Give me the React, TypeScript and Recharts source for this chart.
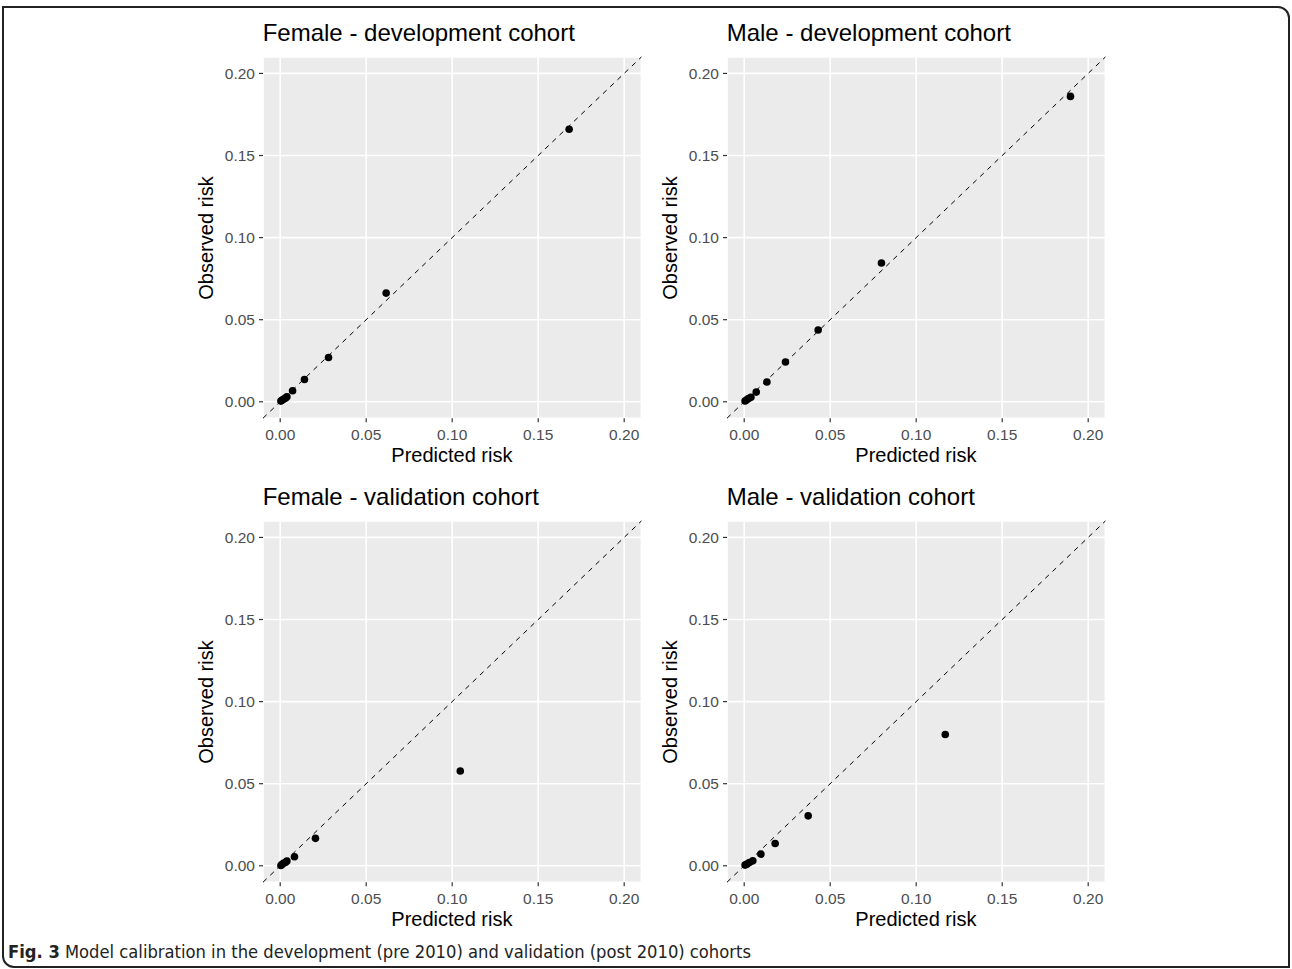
import React from 'react';
import { ScatterChart, Scatter, XAxis, YAxis, CartesianGrid, ReferenceLine } from 'recharts';

// ---- data ----
const tickValues = [0, 0.05, 0.1, 0.15, 0.2];
const minorTickValues = [0.025, 0.075, 0.125, 0.175];
const axisDomain: [number, number] = [-0.01, 0.21];

const panelTitles = [
  'Female - development cohort',
  'Male - development cohort',
  'Female - validation cohort',
  'Male - validation cohort',
];
const xAxisTitle = 'Predicted risk';
const yAxisTitle = 'Observed risk';
const captionBold = 'Fig. 3';
const captionText = ' Model calibration in the development (pre 2010) and validation (post 2010) cohorts';

const femaleDevPredicted = [0.0004, 0.001, 0.0019, 0.003, 0.0039, 0.0072, 0.0141, 0.0281, 0.0616, 0.168];
const femaleDevObserved = [0.0004, 0.0009, 0.0015, 0.0022, 0.003, 0.0067, 0.0136, 0.027, 0.0662, 0.166];

const maleDevPredicted = [0.0005, 0.0015, 0.0025, 0.0039, 0.007, 0.0132, 0.024, 0.043, 0.0798, 0.1897];
const maleDevObserved = [0.0005, 0.0012, 0.002, 0.0027, 0.0059, 0.012, 0.0242, 0.0437, 0.0845, 0.186];

const femaleValPredicted = [0.0004, 0.001, 0.0019, 0.003, 0.0039, 0.0083, 0.0205, 0.1047];
const femaleValObserved = [0.0002, 0.0008, 0.0015, 0.002, 0.0029, 0.0055, 0.0167, 0.0577];

const maleValPredicted = [0.0005, 0.0015, 0.003, 0.005, 0.0097, 0.018, 0.0372, 0.1169];
const maleValObserved = [0.0004, 0.001, 0.002, 0.003, 0.0071, 0.0136, 0.0304, 0.08];

const panelPredicted = [femaleDevPredicted, maleDevPredicted, femaleValPredicted, maleValPredicted];
const panelObserved = [femaleDevObserved, maleDevObserved, femaleValObserved, maleValObserved];

// ---- layout ----
const FONT = '"Liberation Sans", Arial, Helvetica, sans-serif';
const PLOT_W = 378.4;
const PLOT_H = 361.2;
const Y_AXIS_W = 90;
const X_AXIS_H = 40;
const M_TOP = 20;
const M_RIGHT = 10;
const CHART_W = Y_AXIS_W + PLOT_W + M_RIGHT;
const CHART_H = M_TOP + PLOT_H + X_AXIS_H;
const panelLefts = [262.7, 726.7, 262.7, 726.7];
const panelTops = [56.9, 56.9, 520.9, 520.9];

const minorX = (props: any) => {
  const ax = props && props.xAxis;
  return ax && typeof ax.scale === 'function' ? minorTickValues.map((v) => ax.scale(v)) : [];
};
const minorY = (props: any) => {
  const ax = props && props.yAxis;
  return ax && typeof ax.scale === 'function' ? minorTickValues.map((v) => ax.scale(v)) : [];
};

const Dot = (props: any) => {
  const { cx, cy } = props;
  if (cx == null || cy == null) return null;
  return <circle cx={cx} cy={cy} r={3.8} fill="#000000" />;
};

const fmt = (v: number) => v.toFixed(2);

function Panel({ index }: { index: number }) {
  const data = panelPredicted[index].map((p, i) => ({ predicted: p, observed: panelObserved[index][i] }));
  const left = panelLefts[index];
  const top = panelTops[index];
  return (
    <>
      <div
        style={{
          position: 'absolute',
          left: left,
          top: top - 38,
          fontFamily: FONT,
          fontSize: 24,
          color: '#000',
          lineHeight: '28px',
          whiteSpace: 'nowrap',
        }}
      >
        {panelTitles[index]}
      </div>
      <div style={{ position: 'absolute', left: left - Y_AXIS_W, top: top - M_TOP }}>
        <ScatterChart
          width={CHART_W}
          height={CHART_H}
          margin={{ top: M_TOP, right: M_RIGHT, bottom: 0, left: 0 }}
        >
          <CartesianGrid
            fill="#EBEBEB"
            stroke="#FFFFFF"
            strokeWidth={0.8}
            verticalCoordinatesGenerator={minorX}
            horizontalCoordinatesGenerator={minorY}
          />
          <CartesianGrid stroke="#FFFFFF" strokeWidth={1.6} />
          <XAxis
            type="number"
            dataKey="predicted"
            domain={axisDomain}
            allowDataOverflow
            ticks={tickValues}
            tickFormatter={fmt}
            height={X_AXIS_H}
            axisLine={false}
            tickSize={4}
            tickMargin={7}
            tickLine={{ stroke: '#333333', strokeWidth: 1.2 }}
            tick={{ fill: '#4D4D4D', fontSize: 15.5, fontFamily: FONT }}
          />
          <YAxis
            type="number"
            dataKey="observed"
            domain={axisDomain}
            allowDataOverflow
            ticks={tickValues}
            tickFormatter={fmt}
            width={Y_AXIS_W}
            axisLine={false}
            tickSize={4}
            tickMargin={4}
            tickLine={{ stroke: '#333333', strokeWidth: 1.2 }}
            tick={{ fill: '#4D4D4D', fontSize: 15.5, fontFamily: FONT }}
          />
          <ReferenceLine
            segment={[
              { x: axisDomain[0], y: axisDomain[0] },
              { x: axisDomain[1], y: axisDomain[1] },
            ]}
            stroke="#000000"
            strokeWidth={1}
            strokeDasharray="5 5"
            ifOverflow="visible"
          />
          <Scatter data={data} shape={Dot} isAnimationActive={false} />
        </ScatterChart>
      </div>
      <div
        style={{
          position: 'absolute',
          left: left,
          width: PLOT_W,
          top: top + PLOT_H + 25,
          textAlign: 'center',
          fontFamily: FONT,
          fontSize: 20,
          lineHeight: '24px',
          color: '#000',
        }}
      >
        {xAxisTitle}
      </div>
      <div
        style={{
          position: 'absolute',
          left: left - 57 - 100,
          top: top + PLOT_H / 2 - 12,
          width: 200,
          textAlign: 'center',
          transform: 'rotate(-90deg)',
          fontFamily: FONT,
          fontSize: 20,
          lineHeight: '24px',
          color: '#000',
        }}
      >
        {yAxisTitle}
      </div>
    </>
  );
}

export default function App() {
  return (
    <div
      style={{
        position: 'absolute',
        left: 0,
        top: 0,
        width: 1292,
        height: 969,
        background: '#FFFFFF',
        overflow: 'hidden',
      }}
    >
      <div
        style={{
          position: 'absolute',
          left: 2,
          top: 6,
          width: 1284,
          height: 958,
          border: '2px solid #222222',
          borderRadius: '0 12px 0 12px',
        }}
      />
      {[0, 1, 2, 3].map((i) => (
        <Panel key={i} index={i} />
      ))}
      <div
        style={{
          position: 'absolute',
          left: 8,
          top: 940,
          fontFamily: '"Liberation Sans Narrow", "DejaVu Sans Condensed", "Open Sans", sans-serif',
          fontSize: 18.2,
          lineHeight: '24px',
          color: '#222',
          whiteSpace: 'nowrap',
        }}
      >
        <b>{captionBold}</b>
        {captionText}
      </div>
    </div>
  );
}
